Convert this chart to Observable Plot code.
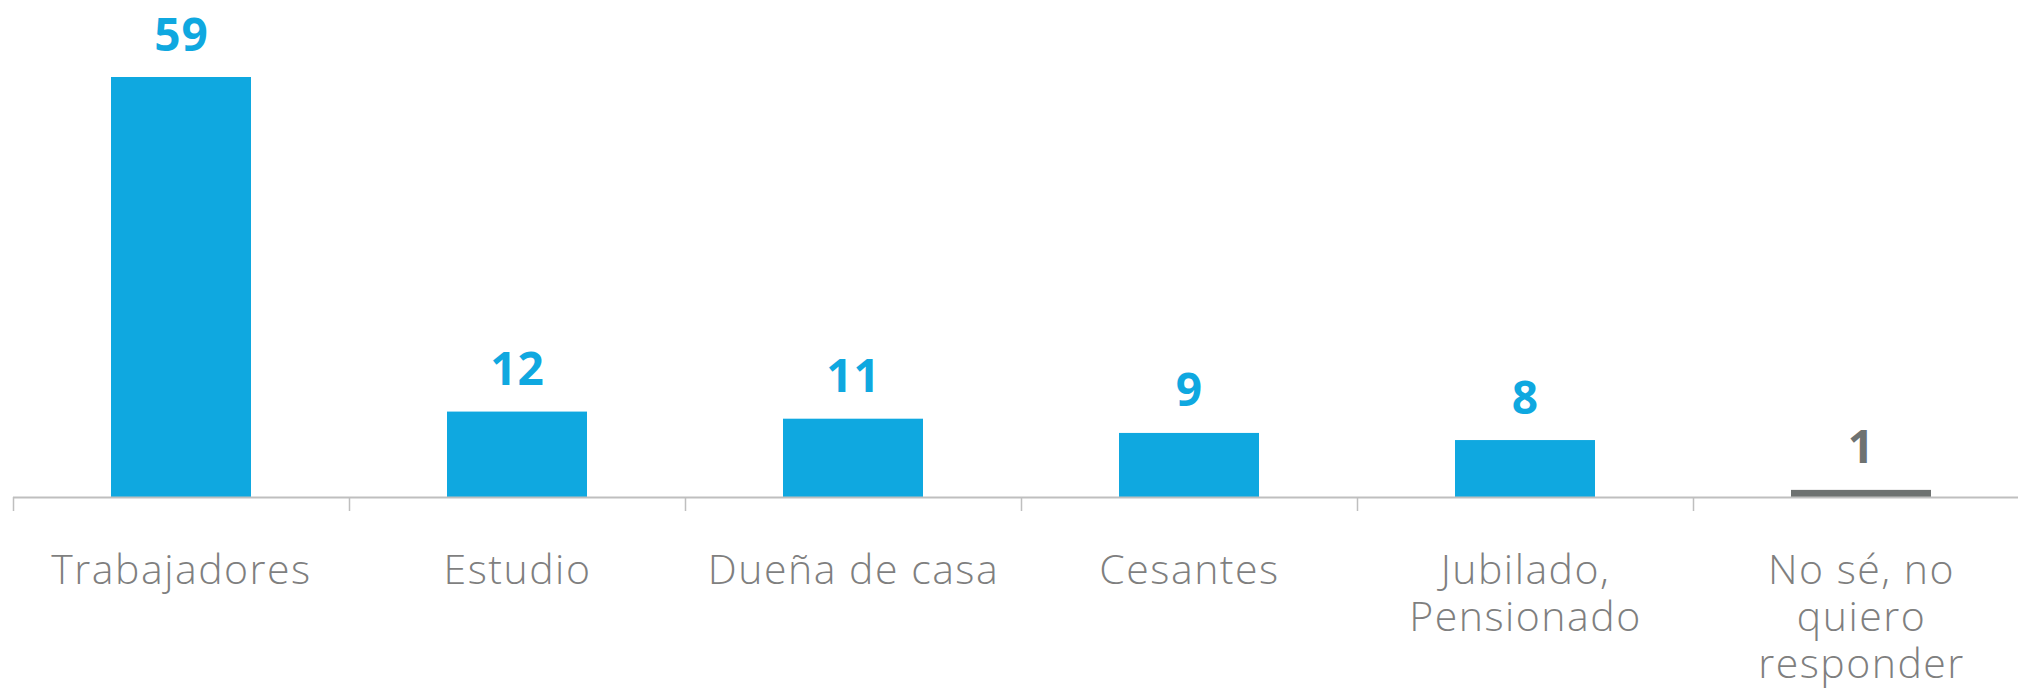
<!DOCTYPE html>
<html>
<head>
<meta charset="utf-8">
<script src="https://cdn.jsdelivr.net/npm/d3@7"></script>
<script src="https://cdn.jsdelivr.net/npm/@observablehq/plot@0.6"></script>
<style>
  html, body { margin: 0; padding: 0; background: #fff; }
  #chart svg { display: block; }
</style>
</head>
<body>
<div id="chart"></div>
<script>
const categories = ["Trabajadores", "Estudio", "Dueña de casa", "Cesantes", "Jubilado,\nPensionado", "No sé, no\nquiero\nresponder"];
const values = [59, 12, 11, 9, 8, 1];
const barColors = ["#0FA8E0", "#0FA8E0", "#0FA8E0", "#0FA8E0", "#0FA8E0", "#6E7271"];

const data = categories.map((c, i) => ({category: c, value: values[i], color: barColors[i]}));

const W = 2018, H = 688;
const band = 336;

const chart = Plot.plot({
  width: W,
  height: H,
  marginTop: 77,
  marginBottom: 191,
  marginLeft: 13,
  marginRight: 0,
  style: {background: "#fff", overflow: "hidden"},
  x: {domain: categories, range: [13, 13 + band * categories.length], padding: 0, axis: null},
  y: {domain: [0, 59], axis: null},
  color: {type: "identity"},
  marks: [
    Plot.barY(data, {x: "category", y: "value", fill: "color", insetLeft: 98, insetRight: 98}),
    Plot.ruleY([0], {stroke: "#BFBFBF", strokeWidth: 2}),
    Plot.ruleX(categories, {x: d => d, y1: 0, y2: 0, dx: -band / 2, insetBottom: -14, stroke: "#BFBFBF", strokeWidth: 1.5}),
    Plot.text(data, {x: "category", y: "value", text: d => String(d.value), fill: "color",
      dy: -27, lineAnchor: "bottom", fontSize: 46, fontWeight: 700, fontFamily: "'Open Sans', sans-serif"}),
    Plot.text(data, {x: "category", y: () => 0, text: "category", fill: "#7F7F7F",
      dy: 53, lineAnchor: "top", lineHeight: 1.15, fontSize: 41, fontWeight: 300, fontFamily: "'Open Sans', sans-serif"})
  ]
});
chart.querySelectorAll("g[font-weight='300'] text").forEach(t => { t.style.letterSpacing = "1.5px"; });
chart.querySelectorAll("g[font-weight='700'] text").forEach(t => { t.style.letterSpacing = "1px"; });
document.getElementById("chart").appendChild(chart);
</script>
</body>
</html>
